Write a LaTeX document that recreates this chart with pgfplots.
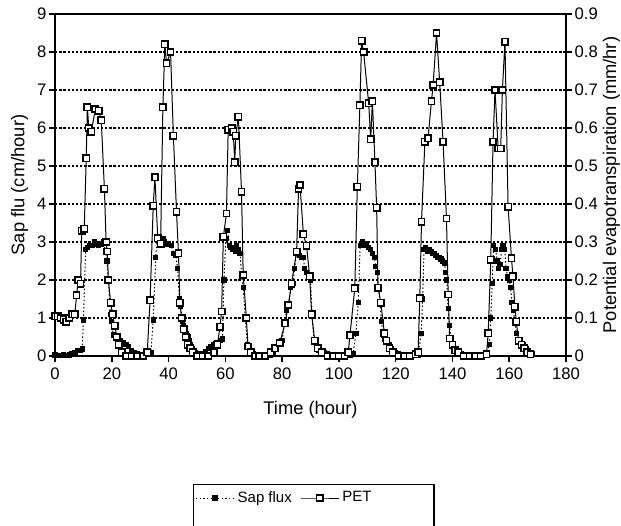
\documentclass[border=0pt]{standalone}
\usepackage{fontspec}
\setmainfont{Liberation Sans}
\usepackage{pgfplots}
\usepackage{pgfplotstable}
\pgfplotsset{compat=1.18}

% sap flux, cm/hour
\pgfplotstableread{
t v
0 0.03
1 0.02
2 0.02
3 0.03
4 0.02
5 0.03
6 0.05
7 0.10
8 0.15
9 0.15
9.6 0.18
10.0 0.95
10.8 2.8
11.5 2.85
12.2 2.9
13.0 2.9
13.8 3.0
14.6 2.95
15.4 2.9
16.2 2.95
17.0 3.0
17.8 2.75
18.3 2.5
18.8 2.0
19.5 1.1
20.0 0.9
20.5 0.55
21.2 0.5
22.0 0.45
23.0 0.4
24.0 0.35
25.0 0.3
26.0 0.25
27.0 0.15
28.0 0.1
29.0 0.05
30.0 0.02
31.0 0.02
32.0 0.04
33.0 0.08
33.8 0.1
34.6 0.95
35.5 2.6
36.0 3.1
36.5 3.05
37.0 3.0
37.5 2.9
38.0 3.1
38.5 3.0
39.2 2.95
40.0 2.95
41.0 2.9
41.8 2.7
42.5 2.65
43.2 2.3
43.8 1.5
44.3 1.3
44.8 0.9
45.3 0.8
45.8 0.7
46.3 0.6
46.8 0.5
47.3 0.4
47.8 0.3
48.5 0.2
49.3 0.1
50.0 0.05
51.0 0.02
52.0 0.05
53.0 0.12
54.0 0.2
55.0 0.25
56.0 0.3
57.0 0.35
58.2 0.4
59.0 0.45
59.5 2.0
60.2 3.1
60.8 3.3
61.5 2.9
62.0 2.85
62.5 2.8
63.0 2.8
63.5 2.75
64.0 2.9
64.5 2.8
65.2 2.7
65.8 2.1
66.3 1.8
67.0 1.0
67.8 0.3
68.5 0.2
69.2 0.1
70.0 0.05
71.0 0.02
72.0 0.01
74.0 0.01
76.0 0.03
77.0 0.1
78.0 0.2
79.0 0.3
80.0 0.4
80.8 0.85
81.6 1.2
82.4 1.35
83.0 1.8
83.8 1.9
84.4 2.3
85.0 2.7
85.6 2.7
86.2 2.65
86.8 2.6
87.4 2.6
88.0 2.3
88.6 2.2
89.3 2.1
90.0 2.0
90.6 1.05
91.2 0.4
92.0 0.3
93.0 0.15
94.0 0.1
95.0 0.08
96.0 0.05
97.0 0.03
98.5 0.02
100 0.01
102 0.01
104 0.02
105.0 0.05
106.0 0.6
106.8 1.4
107.5 2.9
108.2 3.0
109.0 2.9
109.8 2.95
110.5 2.85
111.2 2.8
111.8 2.7
112.5 2.6
113.0 2.35
113.5 2.2
114.0 1.8
114.5 1.4
115.0 0.9
115.6 0.55
116.3 0.45
117.0 0.4
117.8 0.3
118.5 0.2
119.3 0.15
120.0 0.1
121.0 0.05
122.0 0.03
124.0 0.02
126.0 0.02
128.0 0.03
129.0 0.6
129.5 1.5
130.0 2.8
130.6 2.85
131.2 2.75
131.8 2.8
132.4 2.75
133.0 2.7
133.6 2.7
134.2 2.65
134.8 2.6
135.4 2.6
136.0 2.55
136.6 2.5
137.2 2.45
137.6 2.2
138.0 2.0
138.5 1.25
139.0 0.8
139.5 0.45
140.2 0.3
141.0 0.2
142.0 0.1
143.0 0.05
144.0 0.03
146.0 0.02
148.0 0.01
150.0 0.02
152.0 0.02
153.0 0.3
153.5 1.0
154.0 1.9
154.5 2.9
155.2 2.8
155.8 2.5
156.3 2.3
156.8 2.4
157.3 2.8
157.8 2.9
158.4 2.8
158.9 2.3
159.4 2.1
160.0 2.0
160.5 1.8
161.0 1.4
161.5 1.2
162.0 0.9
162.5 0.6
163.0 0.4
164.0 0.35
165.0 0.3
166.0 0.2
167.0 0.1
168.0 0.05
}\sapflux

% PET, mm/hr
\pgfplotstableread{
t v
0 0.105
1 0.105
2 0.10
3 0.095
4 0.09
5 0.10
6 0.11
7 0.11
7.6 0.16
8.2 0.20
9.0 0.19
9.4 0.33
10.3 0.335
11.0 0.52
11.4 0.655
11.9 0.60
12.8 0.59
14.2 0.65
15.4 0.645
16.3 0.62
17.4 0.44
18.0 0.30
18.4 0.275
18.8 0.20
19.6 0.14
20.3 0.11
21.0 0.08
21.8 0.05
22.5 0.03
23.5 0.01
25 0
27 0
29 0
31 0
32.5 0.01
33.5 0.147
34.6 0.395
35.2 0.47
36.2 0.31
37.2 0.295
38.0 0.655
38.7 0.82
39.3 0.77
40.7 0.80
41.7 0.58
42.8 0.38
43.5 0.27
44.0 0.14
44.6 0.10
45.3 0.07
46.0 0.05
46.8 0.03
47.6 0.02
48.5 0.01
50 0
52 0
54 0
56 0.01
57.2 0.03
58.1 0.077
58.7 0.117
59.3 0.314
60.4 0.375
61.0 0.595
62.3 0.60
62.8 0.59
63.3 0.51
63.7 0.58
64.6 0.63
65.7 0.432
66.3 0.213
67.4 0.10
68.0 0.025
69 0.01
70.5 0
72 0
74 0
76 0.01
77.5 0.02
79.2 0.034
81.0 0.086
82.2 0.134
83.3 0.19
85.1 0.274
85.8 0.44
86.3 0.45
87.5 0.32
88.6 0.29
89.7 0.21
90.4 0.11
91.5 0.04
92.5 0.02
94 0.01
96 0
98 0
100 0
102 0
103.3 0.01
103.9 0.055
105.6 0.178
106.5 0.445
107.4 0.66
108.0 0.83
108.7 0.80
110.5 0.665
111.2 0.57
111.8 0.67
112.7 0.51
113.3 0.39
113.8 0.18
114.8 0.14
116.0 0.06
116.8 0.04
117.8 0.02
119 0.01
121 0
123 0
125 0
127 0.005
127.9 0.01
128.5 0.152
129.1 0.353
130.3 0.564
131.4 0.573
132.6 0.67
133.2 0.713
134.4 0.85
135.5 0.72
136.7 0.564
137.9 0.362
138.5 0.162
139.0 0.046
140 0.03
141 0.015
142 0.01
144 0
146 0
148 0
150 0
152 0.005
152.6 0.06
153.5 0.253
154.3 0.564
155.0 0.70
156.1 0.546
157.0 0.546
157.6 0.70
158.5 0.827
159.6 0.393
160.8 0.257
161.3 0.21
162.0 0.13
162.5 0.09
163.3 0.04
164.3 0.03
165.3 0.02
166.3 0.01
167.5 0.005
}\pet

\pgfplotsset{
  base/.style={
    width=306.6pt, height=205.2pt, scale only axis,
    xmin=0, xmax=180, clip=false,
    tick align=outside, major tick length=3.5pt,
    axis line style={line width=1.1pt},
    every tick/.style={black, line width=0.9pt},
    /pgf/number format/assume math mode=true,
    tick label style={font=\fontsize{10}{12}\selectfont},
    yticklabel style={inner xsep=1.5pt},
    label style={font=\fontsize{11}{13}\selectfont},
  },
  sapstyle/.style={black, line width=0.6pt, dash pattern=on 0.9pt off 1.3pt,
    mark=square*, mark size=1.3pt, mark options={solid}},
  petstyle/.style={black, line width=0.6pt, mark=square*, mark size=1.9pt,
    mark options={solid, fill=white, line width=0.9pt}},
}

\begin{document}
\begin{tikzpicture}
\begin{axis}[base, name=main,
  ymin=0, ymax=9, ytick={0,1,...,9},
  xtick={0,20,...,180}, xtick pos=bottom, ytick pos=left,
  ymajorgrids, grid style={black, line width=0.7pt, dash pattern=on 1.4pt off 1.1pt},
  xlabel={Time (hour)}, ylabel={Sap flu (cm/hour)},
  xlabel style={at={(axis description cs:0.5,-0.17)}, anchor=base},
  ylabel style={at={(axis description cs:-0.06,0.5)}, anchor=base},
]
\addplot[sapstyle] table[x=t, y=v] {\sapflux};
\end{axis}
\begin{axis}[base,
  ymin=0, ymax=0.9, ytick={0,0.1,0.2,0.3,0.4,0.5,0.6,0.7,0.8,0.9},
  yticklabel style={/pgf/number format/fixed},
  axis y line*=right, axis x line=none,
  ylabel={Potential evapotranspiration (mm/hr)},
  ylabel style={at={(axis description cs:1.098,0.5)}, anchor=base},
  legend columns=2,
  legend image code/.code={
    \draw[mark repeat=2, mark phase=2, #1] plot coordinates {(0cm,0cm) (0.4cm,0cm) (0.8cm,0cm)};},
  legend style={at={(axis description cs:0.27,-0.374)}, anchor=north west,
    draw=black, line width=0.9pt, font=\fontsize{9}{11}\selectfont,
    /tikz/every even column/.append style={column sep=3pt},
    inner xsep=1pt, inner ysep=2pt},
]
\addlegendimage{sapstyle}
\addlegendentry{Sap flux}
\addplot[petstyle] table[x=t, y=v] {\pet};
\addlegendentry{\makebox[52pt][l]{PET}}
\addlegendimage{empty legend}
\addlegendentry{\phantom{X}}
\end{axis}
\pgfresetboundingbox
\path[use as bounding box] ([xshift=-33pt,yshift=-102pt]main.south west)
  rectangle ([xshift=339.6pt,yshift=213.6pt]main.south west);
\end{tikzpicture}
\end{document}
